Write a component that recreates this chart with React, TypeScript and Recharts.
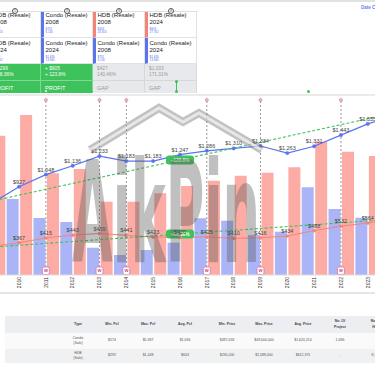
import React from "react";
import {
  ComposedChart,
  Bar,
  Line,
  XAxis,
  YAxis,
  ReferenceLine,
  LabelList,
} from "recharts";

// ---- chart data ----
const years = ["2008", "2009", "2010", "2011", "2012", "2013", "2014", "2015", "2016", "2017", "2018", "2019", "2020", "2021", "2022", "2023", "2024"];
const condoVolume = [6116, 14000, 15200, 11400, 10600, 5460, 4000, 5000, 6460, 11340, 10860, 8000, 8660, 17540, 13200, 11460, 13940];
const hdbVolume = [26924, 27860, 32000, 20340, 21200, 14660, 14660, 16340, 17800, 18860, 19860, 20460, 21540, 26660, 24660, 23800, 27762];
const condoPsf = [731, 765, 927, 1048, 1136, 1233, 1183, 1183, 1247, 1286, 1310, 1334, 1263, 1331, 1443, 1555, 1636];
const hdbPsf = [304, 330, 367, 415, 443, 459, 441, 423, 420, 425, 410, 416, 434, 488, 532, 564, 603];
const markedYears = ["2011", "2013", "2014", "2017", "2019", "2022"];
const trendYears = ["2008", "2024"];
const condoTrend = [725, 1665];
const hdbTrend = [304, 603];
const trendBadges = ["+123.8%", "+98.36%"];

// ---- comparison cards ----
const cardTopType = ["HDB (Resale)", "Condo (Resale)", "HDB (Resale)", "HDB (Resale)"];
const cardTopYear = ["2008", "2008", "2008", "2024"];
const cardTopPsf = ["$304", "$731", "$304", "$603"];
const cardTopVol = ["26,924", "6,116", "26,924", "27,762"];
const cardBotType = ["HDB (Resale)", "Condo (Resale)", "Condo (Resale)", "Condo (Resale)"];
const cardBotYear = ["2024", "2024", "2008", "2024"];
const cardBotPsf = ["$603", "$1,636", "$731", "$1,636"];
const cardBotVol = ["27,762", "13,940", "6,116", "13,940"];
const diffAmt = ["+ $299", "+ $905", "$427", "$1,033"];
const diffPct = ["+ 98.36%", "+ 123.8%", "140.46%", "171.31%"];
const diffKind = ["PROFIT", "PROFIT", "GAP", "GAP"];

// ---- summary table ----
const tableHead = ["Type", "Min. Psf", "Max. Psf", "Avg. Psf", "Min. Price", "Max. Price", "Avg. Price", "No. Of\nProject", "No. Of\nHDB"];
const condoRow = ["Condo\n(Sale)", "$274", "$5,387", "$1,636", "$492,633", "$49,000,000", "$1,620,214", "1,686", "-"];
const hdbRow = ["HDB\n(Sale)", "$292", "$1,448", "$603", "$230,000", "$1,588,000", "$612,375", "-", "8,154"];

const BLUE = "#5a74ee";
const SALMON = "#f58478";
const GREEN = "#3ec25c";
const FONT = "'Liberation Sans', Arial, sans-serif";

const data = years.map((year, i) => ({
  year,
  condoVolume: condoVolume[i],
  hdbVolume: hdbVolume[i],
  condoPsf: condoPsf[i],
  hdbPsf: hdbPsf[i],
}));

const money = (v: any) => "$" + Number(v).toLocaleString("en-US");

const YearTick = ({ x, y, payload }: any) => (
  <g transform={`translate(${x},${y})`}>
    <text transform="rotate(-90)" x={0} y={0} dy="0.35em" textAnchor="end" fontSize={5} fill="#333">
      {payload.value}
    </text>
  </g>
);

const RefMarker = (props: any) => {
  const vb = props.viewBox || {};
  const x = vb.x;
  const top = vb.y;
  const bottom = vb.y + vb.height;
  return (
    <g>
      <circle cx={x} cy={top} r={1.6} fill="#f0b3cf" stroke="#d96aa2" strokeWidth={0.5} />
      <rect x={x - 3.5} y={bottom - 8} width={7} height={7.5} rx={1.5} fill="#fff" stroke="#e07aae" strokeWidth={0.9} />
      <text x={x} y={bottom - 4.2} dy="0.35em" textAnchor="middle" fontSize={4.2} fontWeight={700} fill="#b04a85">
        W
      </text>
    </g>
  );
};

const badge = (text: string) => (props: any) => {
  const vb = props.viewBox || {};
  const cx = vb.x + vb.width / 2;
  const cy = vb.y + vb.height / 2;
  return (
    <g>
      <rect x={cx - 14} y={cy - 4.5} width={28} height={9} rx={3} fill={GREEN} />
      <text x={cx} y={cy} dy="0.35em" textAnchor="middle" fontSize={4.8} fontWeight={700} fill="#fff">
        {text}
      </text>
    </g>
  );
};

function InfoCell({ left, top, height, type, year, psf, vol, pt }: any) {
  const color = type.startsWith("Condo") ? BLUE : SALMON;
  return (
    <div
      style={{
        position: "absolute",
        left,
        top,
        width: 52,
        height,
        boxSizing: "border-box",
        borderLeft: `3px solid ${color}`,
        borderRight: "1px solid #e2e2e2",
        borderBottom: "1px solid #e2e2e2",
        background: "#fff",
        paddingLeft: 1.5,
        paddingTop: pt,
        overflow: "hidden",
      }}
    >
      <div style={{ fontSize: 6, lineHeight: "7.6px", color: "#222", whiteSpace: "nowrap" }}>
        {type}
        <br />
        {year}
      </div>
      <div style={{ fontSize: 3, lineHeight: "3.4px", color: BLUE, marginTop: 1.4 }}>
        {psf}
        <br />
        {vol}
      </div>
    </div>
  );
}

export default function App() {
  const cols = [0, 1, 2, 3];
  const colLeft = (i: number) => -11 + i * 52;
  const tableCenters = [78, 112, 148, 185, 227, 264, 303, 340, 376];

  return (
    <div
      style={{
        position: "absolute",
        left: 0,
        top: 0,
        width: 375,
        height: 366,
        overflow: "hidden",
        background: "#fff",
        fontFamily: FONT,
      }}
    >
      {/* page chrome */}
      <div style={{ position: "absolute", left: 0, top: 0, width: 375, height: 1.5, background: "#e2e2e2" }} />
      <div style={{ position: "absolute", left: 361, top: 4.5, fontSize: 4.5, fontWeight: 700, color: "#6d7cf2", whiteSpace: "nowrap" }}>
        Date Chart
      </div>

      {/* comparison cards */}
      <div style={{ position: "absolute", left: -11, top: 11, width: 209, height: 0.8, background: "#dedede" }} />
      {cols.map((i) => (
        <InfoCell key={"t" + i} left={colLeft(i)} top={11.5} height={26} type={cardTopType[i]} year={cardTopYear[i]} psf={cardTopPsf[i]} vol={cardTopVol[i]} pt={0} />
      ))}
      {cols.map((i) => (
        <InfoCell key={"b" + i} left={colLeft(i)} top={37.5} height={26} type={cardBotType[i]} year={cardBotYear[i]} psf={cardBotPsf[i]} vol={cardBotVol[i]} pt={2} />
      ))}
      {cols.map((i) => {
        const profit = diffKind[i] === "PROFIT";
        return (
          <React.Fragment key={"d" + i}>
            <div
              style={{
                position: "absolute",
                left: colLeft(i),
                top: 63.5,
                width: 52,
                height: 17.2,
                boxSizing: "border-box",
                background: profit ? GREEN : "#e7e9ec",
                borderRight: profit ? "1px solid rgba(255,255,255,0.35)" : "1px solid #d8d8d8",
                borderBottom: profit ? "1px solid rgba(255,255,255,0.35)" : "1px solid #d8d8d8",
                color: profit ? "#fff" : "#9a9a9a",
                paddingLeft: 4,
                paddingTop: 2.4,
                fontSize: 4.8,
                lineHeight: "6.6px",
                whiteSpace: "nowrap",
              }}
            >
              {diffAmt[i]}
              <br />
              {diffPct[i]}
            </div>
            <div
              style={{
                position: "absolute",
                left: colLeft(i),
                top: 80.7,
                width: 52,
                height: 12,
                boxSizing: "border-box",
                background: profit ? GREEN : "#e7e9ec",
                borderRight: profit ? "1px solid rgba(255,255,255,0.35)" : "1px solid #d8d8d8",
                color: profit ? "#fff" : "#9a9a9a",
                paddingLeft: 4,
                paddingTop: 4.5,
                fontSize: 5.6,
                lineHeight: "6px",
              }}
            >
              {diffKind[i]}
            </div>
          </React.Fragment>
        );
      })}
      {cols.map((i) => (
        <div
          key={"c" + i}
          style={{
            position: "absolute",
            left: colLeft(i) + 26 - 2.8,
            top: 11 - 2.8,
            width: 5.6,
            height: 5.6,
            boxSizing: "border-box",
            borderRadius: 3,
            border: "0.7px solid #555",
            background: "#fff",
            fontSize: 3.4,
            lineHeight: "4.2px",
            textAlign: "center",
            color: "#333",
          }}
        >
          {i + 1}
        </div>
      ))}
      {/* range handles */}
      <div style={{ position: "absolute", left: 46, top: 90.5, width: 47, height: 0.8, background: GREEN }} />
      <div style={{ position: "absolute", left: 44, top: 88.8, width: 4, height: 4, boxSizing: "border-box", borderRadius: 2, border: `0.8px solid ${GREEN}`, background: "#fff" }} />
      <div style={{ position: "absolute", left: 176.3, top: 81, width: 0.8, height: 10, background: GREEN }} />
      <div style={{ position: "absolute", left: 175, top: 79.5, width: 3.4, height: 3.4, borderRadius: 2, background: GREEN }} />
      <div style={{ position: "absolute", left: 175, top: 89.5, width: 3.4, height: 3.4, borderRadius: 2, background: GREEN }} />
      <div style={{ position: "absolute", left: 306.5, top: 90, width: 3.4, height: 3.4, borderRadius: 2, background: GREEN }} />
      <div style={{ position: "absolute", left: 0, top: 94, width: 375, height: 1.6, background: "#ebebeb" }} />

      {/* chart */}
      <div style={{ position: "absolute", left: -48, top: 96 }}>
        <ComposedChart
          width={456}
          height={197}
          data={data}
          margin={{ top: 4, right: 0, bottom: 0, left: 0 }}
          barGap={1.5}
          barCategoryGap={0}
        >
          <XAxis
            dataKey="year"
            interval={0}
            height={18}
            tickLine={false}
            tickSize={0}
            tickMargin={2}
            axisLine={{ stroke: "#dcdcdc" }}
            tick={<YearTick />}
          />
          <YAxis yAxisId="vol" hide domain={[0, 35000]} allowDataOverflow />
          <YAxis yAxisId="psf" hide domain={[44, 1794]} allowDataOverflow />
          <Bar yAxisId="vol" dataKey="condoVolume" fill="#aab4f6" barSize={12} isAnimationActive={false} />
          <Bar yAxisId="vol" dataKey="hdbVolume" fill="#fcaca4" barSize={12} isAnimationActive={false} />
          {markedYears.map((y) => (
            <ReferenceLine key={y} x={y} yAxisId="psf" stroke="#9a9a9a" strokeDasharray="2 2" label={RefMarker} />
          ))}
          <Line
            yAxisId="psf"
            dataKey="hdbPsf"
            stroke={SALMON}
            strokeWidth={1}
            dot={{ r: 1.6, fill: SALMON, stroke: SALMON, strokeWidth: 0.5 }}
            isAnimationActive={false}
          >
            <LabelList dataKey="hdbPsf" position="top" offset={3} fontSize={5.5} fill="#444" formatter={money} />
          </Line>
          <Line
            yAxisId="psf"
            dataKey="condoPsf"
            stroke={BLUE}
            strokeWidth={1.2}
            dot={{ r: 1.7, fill: BLUE, stroke: BLUE, strokeWidth: 0.5 }}
            isAnimationActive={false}
          >
            <LabelList dataKey="condoPsf" position="top" offset={3} fontSize={5.5} fill="#444" formatter={money} />
          </Line>
          <ReferenceLine
            yAxisId="psf"
            segment={[
              { x: trendYears[0], y: condoTrend[0] },
              { x: trendYears[1], y: condoTrend[1] },
            ]}
            stroke={GREEN}
            strokeDasharray="3 2"
            strokeWidth={1.1}
            ifOverflow="visible"
            label={badge(trendBadges[0])}
          />
          <ReferenceLine
            yAxisId="psf"
            segment={[
              { x: trendYears[0], y: hdbTrend[0] },
              { x: trendYears[1], y: hdbTrend[1] },
            ]}
            stroke={GREEN}
            strokeDasharray="3 2"
            strokeWidth={1.1}
            ifOverflow="visible"
            label={badge(trendBadges[1])}
          />
        </ComposedChart>
      </div>

      {/* watermark */}
      <svg style={{ position: "absolute", left: 0, top: 0, pointerEvents: "none" }} width={375} height={366}>
        <polyline points="90,150 159,108 183,122 199,113 262,150" fill="none" stroke="rgba(110,110,110,0.42)" strokeWidth={8} />
        <polyline points="90,150 159,108 183,122 199,113 262,150" fill="none" stroke="rgba(255,255,255,0.6)" strokeWidth={3} />
        <text
          x={72}
          y={262}
          fontSize={140}
          fontWeight={700}
          fontFamily="'DejaVu Sans', sans-serif"
          textLength={188}
          lengthAdjust="spacingAndGlyphs"
          fill="rgba(90,90,90,0.38)"
        >
          AikPin
        </text>
      </svg>

      <div style={{ position: "absolute", left: 0, top: 292, width: 375, height: 1.6, background: "#e6e6e6" }} />

      {/* summary table */}
      <div style={{ position: "absolute", left: 5, top: 316, width: 370, height: 17, background: "#eceef1" }} />
      <div style={{ position: "absolute", left: 5, top: 333, width: 370, height: 16, background: "#fafafa" }} />
      <div style={{ position: "absolute", left: 5, top: 349, width: 370, height: 14, background: "#f0f1f3" }} />
      {[
        { row: tableHead, top: 316, h: 17, bold: true },
        { row: condoRow, top: 333, h: 16, bold: false },
        { row: hdbRow, top: 349, h: 14, bold: false },
      ].map((r, ri) =>
        r.row.map((cell, ci) => (
          <div
            key={ri + "-" + ci}
            style={{
              position: "absolute",
              left: tableCenters[ci] - 20,
              top: r.top,
              width: 40,
              height: r.h,
              display: "flex",
              alignItems: "center",
              justifyContent: "center",
              textAlign: "center",
              whiteSpace: "pre-line",
              fontSize: 3.5,
              lineHeight: "5.2px",
              fontWeight: r.bold ? 700 : 400,
              color: r.bold ? "#444" : "#555",
            }}
          >
            {cell}
          </div>
        ))
      )}
    </div>
  );
}
